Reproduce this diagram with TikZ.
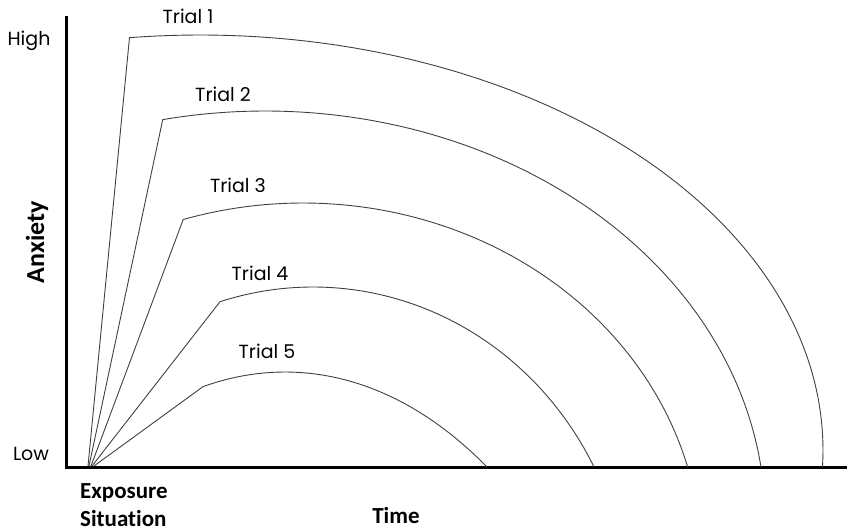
\documentclass[tikz,border=0pt]{standalone}
\usepackage{fontspec}
\newfontfamily\trialfont{Poppins}
\newfontfamily\axisfont[Ligatures=NoCommon]{Carlito}
\begin{document}
\begin{tikzpicture}[x=1pt,y=-1pt,
  axisline/.style={line width=3pt,black},
  trialcurve/.style={line width=0.9pt,draw=black!75,line join=round},
  triallabel/.style={font=\trialfont\fontsize{19}{22}\selectfont,inner sep=0pt},
  axislabel/.style={font=\axisfont\bfseries\fontsize{23}{26}\selectfont,inner sep=0pt}]
\useasboundingbox (0,0) rectangle (847,532);

% axes
\coordinate (ytop) at (66,16);
\coordinate (corner) at (66,467);
\coordinate (xend) at (847,467);
\draw[axisline,line join=miter] (ytop) -- (corner) -- (xend);

% start points of the trials
\coordinate (o1) at (88,466);
\coordinate (o2) at (89,466);
\coordinate (o3) at (91,466);
\coordinate (o4) at (92,466);
\coordinate (o5) at (94,466);

% each trial: a steep rise, then an elliptical fall back to the time axis
\draw[trialcurve] (o1) -- plot[domain=96.5:-2.35,samples=150,variable=\t]
  ({200+623*cos(\t)},{450-415*sin(\t)});
\draw[trialcurve] (o2) -- plot[domain=101.8:7.45,samples=150,variable=\t]
  ({265+500.2*cos(\t)},{520-409*sin(\t)});
\draw[trialcurve] (o3) -- plot[domain=107.5:15.1,samples=150,variable=\t]
  ({303+398.4*cos(\t)},{560-357*sin(\t)});
\draw[trialcurve] (o4) -- plot[domain=107.1:27.35,samples=150,variable=\t]
  ({313+316.4*cos(\t)},{620-333*sin(\t)});
\draw[trialcurve] (o5) -- plot[domain=102.4:58.06,samples=150,variable=\t]
  ({285+382*cos(\t)},{1000-628*sin(\t)});

% trial labels
\node[triallabel] (t1) at (188,16) {Trial 1};
\node[triallabel] (t2) at (223,94) {Trial 2};
\node[triallabel] (t3) at (238,185) {Trial 3};
\node[triallabel] (t4) at (260,273) {Trial 4};
\node[triallabel] (t5) at (267,351) {Trial 5};

% scale labels
\node[triallabel] (high) at (29,41) {High};
\node[triallabel] (low) at (31,454) {Low};

% axis titles
\node[axislabel,rotate=90,font=\axisfont\bfseries\fontsize{26}{28}\selectfont] (anx) at (37,242) {Anxiety};
\node[axislabel,anchor=west] (expo) at (80,493) {Exposure};
\node[axislabel,anchor=west] (situ) at (80,519) {Situation};
\node[axislabel] (time) at (396,516) {Time};
\end{tikzpicture}
\end{document}
